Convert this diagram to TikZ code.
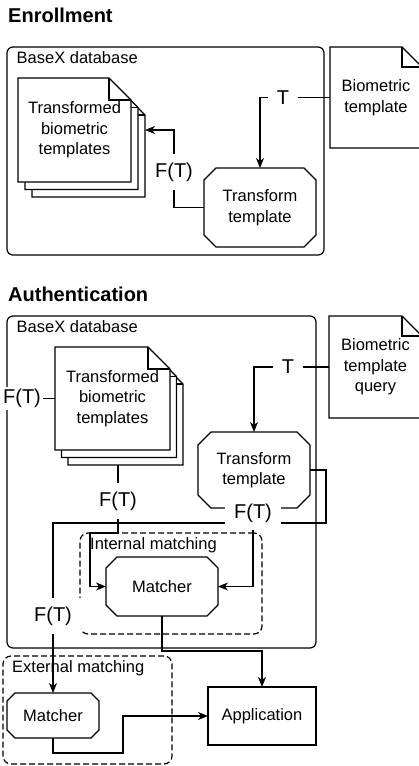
\documentclass[tikz,border=0pt]{standalone}
\usepackage{fontspec}
\setmainfont{Liberation Sans}
\usetikzlibrary{arrows.meta}
\pgfdeclarelayer{back}
\pgfsetlayers{back,main}
\tikzset{
  txt/.style={font=\fontsize{16.5}{20.5}\selectfont, align=center, inner sep=0pt, outer sep=0pt},
  titletxt/.style={font=\fontsize{20}{24}\selectfont\bfseries, anchor=base west, inner sep=0pt},
  boxlbl/.style={font=\fontsize{16.5}{20}\selectfont, anchor=base west, inner sep=0pt},
  geo/.style 2 args={txt, minimum width=#1, minimum height=#2},
  dbbox/.style 2 args={draw, line width=1.2pt, rounded corners=6pt, minimum width=#1, minimum height=#2, inner sep=0pt, outer sep=0pt},
  dashbox/.style 2 args={draw, line width=1.2pt, dash pattern=on 6pt off 3pt, rounded corners=8pt, minimum width=#1, minimum height=#2, inner sep=0pt, outer sep=0pt},
  conn/.style={line width=1.2pt},
  arr/.style={conn, -{Stealth[length=10pt,width=8pt,inset=3pt]}},
  lbl/.style={font=\fontsize{20}{24}\selectfont, fill=white, inner xsep=9pt, inner ysep=9pt},
  shapeline/.style={line width=1.2pt, fill=white},
}
\newcommand\notedraw[2]{\begin{pgfonlayer}{back}
 \filldraw[shapeline] (#1.north west) -- ([xshift=-#2]#1.north east) -- ([yshift=-#2]#1.north east) -- (#1.south east) -- (#1.south west) -- cycle;
 \draw[line width=1.2pt] ([xshift=-#2]#1.north east) -- ([xshift=-#2,yshift=-#2]#1.north east) -- ([yshift=-#2]#1.north east);
\end{pgfonlayer}}
\newcommand\octdraw[2]{\begin{pgfonlayer}{back}
 \filldraw[shapeline] ([xshift=#2]#1.north west) -- ([xshift=-#2]#1.north east) -- ([yshift=-#2]#1.north east) -- ([yshift=#2]#1.south east) -- ([xshift=-#2]#1.south east) -- ([xshift=#2]#1.south west) -- ([yshift=#2]#1.south west) -- ([yshift=-#2]#1.north west) -- cycle;
\end{pgfonlayer}}
\begin{document}
\begin{tikzpicture}[x=1pt,y=-1pt]
\begin{pgfonlayer}{back}
\fill[white] (0,0) rectangle (419,766);
\end{pgfonlayer}
\useasboundingbox (0,0) rectangle (419,766);

% ---------------- Enrollment ----------------
\node[titletxt] (t1) at (8,22.5) {Enrollment};
\node[dbbox={317pt}{208pt}] (db1) at (165.5,151) {};
\node[boxlbl] (db1l) at (16.5,63) {BaseX database};

\node[geo={113pt}{104pt}] (stk1c) at (88.5,145) {};
\node[geo={113pt}{104pt}] (stk1b) at (81.5,137.5) {};
\node[geo={113pt}{104pt}] (stk1a) at (74.5,130) {Transformed\\biometric\\templates};
\notedraw{stk1c}{22pt}
\notedraw{stk1b}{22pt}
\notedraw{stk1a}{22pt}

\node[geo={92pt}{101pt}] (bio1) at (376,97.5) {Biometric\\template};
\notedraw{bio1}{20pt}

\node[geo={112pt}{79pt}] (tr1) at (260,207.5) {Transform\\template};
\octdraw{tr1}{12pt}

\coordinate (T1c) at (283,97.5);
\coordinate (F1c) at (174,172);
\draw[arr] (bio1.west) -- (T1c) -| (tr1.north);
\draw[arr] (tr1.west) -| (F1c) |- ([yshift=15pt]stk1c.east);
\node[lbl] (T1) at (T1c) {T};
\node[lbl] (F1) at (F1c) {F(T)};

% ---------------- Authentication ----------------
\node[titletxt] (t2) at (8,301.5) {Authentication};
\node[dbbox={309pt}{332pt}] (db2) at (161.5,482) {};
\node[boxlbl] (db2l) at (16.5,332) {BaseX database};

\node[geo={115pt}{103pt}] (stk2c) at (125.5,413.5) {};
\node[geo={115pt}{103pt}] (stk2b) at (119,406) {};
\node[geo={115pt}{103pt}] (stk2a) at (112.5,398.5) {Transformed\\biometric\\templates};
\notedraw{stk2c}{22pt}
\notedraw{stk2b}{22pt}
\notedraw{stk2a}{22pt}

\node[geo={93pt}{102pt}] (bio2) at (375.5,367) {Biometric\\template\\query};
\notedraw{bio2}{20pt}

\node[geo={112pt}{76pt}] (tr2) at (254,470) {Transform\\template};
\octdraw{tr2}{13pt}

\node[dashbox={182pt}{101pt}] (imb) at (171,583.5) {};
\node[boxlbl] (imbl) at (90,549) {Internal matching};
\node[geo={112pt}{59pt}] (im) at (162,586.5) {Matcher};
\octdraw{im}{11pt}

\node[dashbox={169pt}{108pt}] (emb) at (87.5,710) {};
\node[boxlbl] (embl) at (12,672) {External matching};
\node[geo={92pt}{45pt}] (em) at (53,715.5) {Matcher};
\octdraw{em}{8pt}

\node[geo={108pt}{58pt}, draw, line width=1.2pt] (app) at (262,716) {Application};

\coordinate (T2c) at (288,367);
\coordinate (F2ac) at (22,398.5);
\coordinate (F2bc) at (118,501);
\coordinate (F2cc) at (253,513);
\coordinate (F2dc) at (53,616);
\coordinate (k1) at (90,533);
\coordinate (r1) at (326,523);
\coordinate (k2) at (162,651);
\coordinate (k3) at (123,753);

\draw[arr] (bio2.west) -- (T2c) -| (tr2.north);
\draw[conn] (stk2a.west) -- (F2ac);
\draw[arr] ([xshift=-7.5pt]stk2c.south) |- (k1) |- (im.west);
\draw[arr] (tr2.east) -| (r1) -| (em.north);
\draw[arr] (F2cc) |- (im.east);
\draw[arr] (im.south) -- (k2) -| (app.north);
\draw[arr] (em.south) |- (k3) |- (app.west);

\node[lbl] (T2) at (T2c) {T};
\node[lbl, inner xsep=2pt, inner ysep=2pt] (F2a) at (F2ac) {F(T)};
\node[lbl] (F2b) at (F2bc) {F(T)};
\node[lbl, inner ysep=8pt] (F2c) at (F2cc) {F(T)};
\node[lbl] (F2d) at (F2dc) {F(T)};
\end{tikzpicture}
\end{document}
